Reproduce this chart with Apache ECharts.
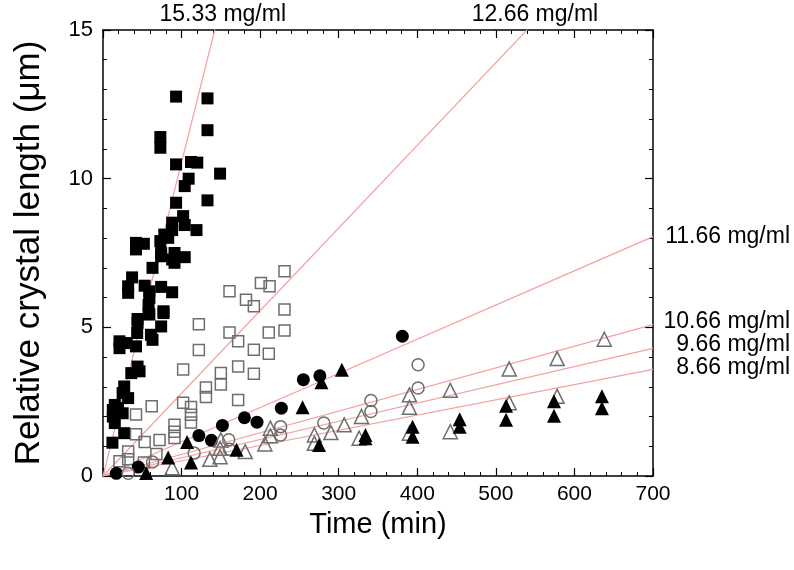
<!DOCTYPE html>
<html>
<head>
<meta charset="utf-8">
<script src="https://cdn.jsdelivr.net/npm/echarts@6/dist/echarts.min.js"></script>
<style>html,body{margin:0;padding:0;background:#fff}#c{width:794px;height:570px}</style>
</head>
<body>
<div id="c"></div>
<script>
// ---- data ----
const xTicks = [100, 200, 300, 400, 500, 600, 700];
const yTicks = [0, 5, 10, 15];
const lineLabels = ["15.33 mg/ml", "12.66 mg/ml", "11.66 mg/ml", "10.66 mg/ml", "9.66 mg/ml", "8.66 mg/ml"];
const lineSlopes = [0.1055, 0.0278, 0.0115, 0.00727, 0.00613, 0.00512];

const filledSquares = [[12,1.12],[27,1.44],[15,1.78],[12.5,2.0],[25,2.11],[15,2.39],[12.5,2.22],[19,2.28],[27,3.01],[25,2.79],[32,2.62],[44,3.68],[46.5,3.52],[36,3.46],[21,4.53],[30,4.47],[21,4.3],[42,4.36],[43.5,4.81],[61,4.75],[63,4.58],[44,5.15],[74,5.03],[59,5.43],[77,5.48],[44,5.28],[58,5.46],[77,5.54],[59,5.99],[58,5.76],[32,6.38],[32,6.16],[53,6.4],[59,6.21],[74,6.36],[88,6.18],[37,6.68],[63,7.0],[74,7.5],[74,7.39],[91,7.5],[91,7.17],[88,7.28],[104,7.36],[42,7.84],[52,7.81],[42,7.62],[73,7.9],[78,8.12],[83,8.01],[88,8.52],[88,8.27],[119,8.27],[104,8.44],[102,8.74],[93,9.19],[133,9.27],[104,9.75],[109,10.0],[149,10.17],[93,10.48],[112,10.56],[120,10.54],[73,11.04],[73,11.4],[133,11.63],[93,12.76],[133,12.7]];
const openSquares = [[21,0.5],[32,0.82],[32,0.56],[52,0.45],[68,0.74],[72,1.21],[53,1.14],[42,1.4],[42,2.07],[62,2.35],[91,1.72],[91,1.49],[91,1.28],[102,2.46],[112,2.32],[112,2.06],[112,1.8],[131,2.98],[131,2.66],[150,3.46],[150,3.08],[172,2.56],[102,3.58],[122,4.24],[122,5.1],[172,3.68],[192,3.44],[172,4.53],[161,4.83],[192,4.25],[211,4.11],[211,4.83],[231,4.89],[161,6.21],[182,5.93],[192,5.71],[231,5.6],[201,6.49],[212,6.38],[231,6.89]];
const filledCircles = [[17,0.09],[45,0.3],[122,1.36],[138,1.2],[152,1.7],[180,1.96],[196,1.81],[227,2.28],[255,3.24],[276,3.37],[381,4.7]];
const openCircles = [[32,0.09],[63,0.47],[116,0.77],[161,0.9],[160,1.22],[226,1.38],[226,1.66],[281,1.78],[341,2.17],[341,2.54],[401,2.96],[401,3.74]];
const openTriangles = [[88,0.28],[136,0.56],[149,0.65],[149,0.93],[150,1.21],[181,0.82],[206,1.08],[213,1.35],[213,1.61],[269,1.1],[269,1.38],[290,1.46],[307,1.72],[326,1.27],[329,2.0],[390,1.44],[390,2.31],[390,2.73],[442,1.49],[442,2.88],[517,2.46],[517,3.6],[578,2.68],[578,3.95],[638,4.6]];
const filledTriangles = [[55,0.1],[83,0.62],[112,0.45],[107,1.14],[170,0.88],[254,2.31],[275,1.04],[278,3.15],[304,3.57],[334,1.27],[334,1.38],[394,1.32],[394,1.66],[454,1.66],[454,1.91],[513,1.89],[513,2.36],[574,2.03],[574,2.51],[635,2.28],[635,2.68]];

// ---- chart ----
const XMAX = 700, YMAX = 15;
const font = 'Liberation Sans, Arial, sans-serif';
const chart = echarts.init(document.getElementById('c'), null, {renderer: 'canvas'});

function axisBase(){
  return {
    axisLine: {show: true, onZero: false, lineStyle: {color: '#000', width: 1.5}},
    axisTick: {show: true, inside: true, length: 8, lineStyle: {color: '#000', width: 1.2}},
    minorTick: {show: true, splitNumber: 5, length: 4, lineStyle: {color: '#000', width: 1}},
    splitLine: {show: false}
  };
}

const lineSeries = lineSlopes.map((s, i) => ({
  type: 'line', name: lineLabels[i], xAxisIndex: 0, yAxisIndex: 0,
  data: [[0, 0], [XMAX, s * XMAX]],
  symbol: 'none', clip: true, silent: true, z: 1,
  lineStyle: {color: '#f4a0a0', width: 1.2}
}));

function scatter(data, symbol, size, filled){
  return {
    type: 'scatter', xAxisIndex: 0, yAxisIndex: 0, data: data, symbol: symbol, symbolSize: size, z: 3,
    itemStyle: filled ? {color: '#000', opacity: 1} : {color: 'rgba(255,255,255,0)', borderColor: '#6e6e6e', borderWidth: 1.5, opacity: 1}
  };
}

chart.setOption({
  animation: false,
  backgroundColor: '#fff',
  grid: {left: 103, right: 141, top: 30, bottom: 94},
  xAxis: [
    Object.assign(axisBase(), {
      type: 'value', position: 'bottom', min: 0, max: XMAX, interval: 100,
      axisLabel: {fontFamily: font, fontSize: 21, color: '#000', margin: 8,
        formatter: v => xTicks.indexOf(v) >= 0 ? String(v) : ''},
      name: 'Time (min)', nameLocation: 'middle', nameGap: 34,
      nameTextStyle: {fontFamily: font, fontSize: 29, color: '#000'}
    }),
    Object.assign(axisBase(), {
      type: 'value', position: 'top', min: 0, max: XMAX, interval: 100,
      axisLabel: {show: false}
    })
  ],
  yAxis: [
    Object.assign(axisBase(), {
      type: 'value', position: 'left', min: 0, max: YMAX, interval: 5,
      axisLabel: {fontFamily: font, fontSize: 22, color: '#000', margin: 10,
        formatter: v => yTicks.indexOf(v) >= 0 ? String(v) : ''},
      name: 'Relative crystal length (μm)', nameLocation: 'middle', nameGap: 56,
      nameTextStyle: {fontFamily: font, fontSize: 35, color: '#000'}
    }),
    Object.assign(axisBase(), {
      type: 'value', position: 'right', min: 0, max: YMAX, interval: 5,
      axisLabel: {show: false}
    })
  ],
  series: lineSeries.concat([
    scatter(filledSquares, 'rect', 12, true),
    scatter(openSquares, 'rect', 11, false),
    scatter(filledCircles, 'circle', 13, true),
    scatter(openCircles, 'circle', 12, false),
    scatter(openTriangles, 'triangle', 14, false),
    scatter(filledTriangles, 'triangle', 14, true)
  ])
});

// line labels placed from the line geometry through the chart's own scales
function addLabels(){
  const els = [];
  lineSlopes.forEach((s, i) => {
    const yEnd = s * XMAX;
    let style;
    if (yEnd > YMAX) {
      const p = chart.convertToPixel({gridIndex: 0}, [YMAX / s, YMAX]);
      style = {x: p[0] + 8, y: p[1] - 15, align: 'center', verticalAlign: 'middle'};
    } else {
      const p = chart.convertToPixel({gridIndex: 0}, [XMAX, yEnd]);
      const dy = [0, 0, 0, -3, -4, -2][i];
      style = {x: 790, y: p[1] + dy, align: 'right', verticalAlign: 'middle'};
    }
    els.push({type: 'text', z: 10, style: Object.assign({
      text: lineLabels[i], font: '23px ' + font, fill: '#000'}, style)});
  });
  chart.setOption({graphic: els});
}
addLabels();
</script>
</body>
</html>
